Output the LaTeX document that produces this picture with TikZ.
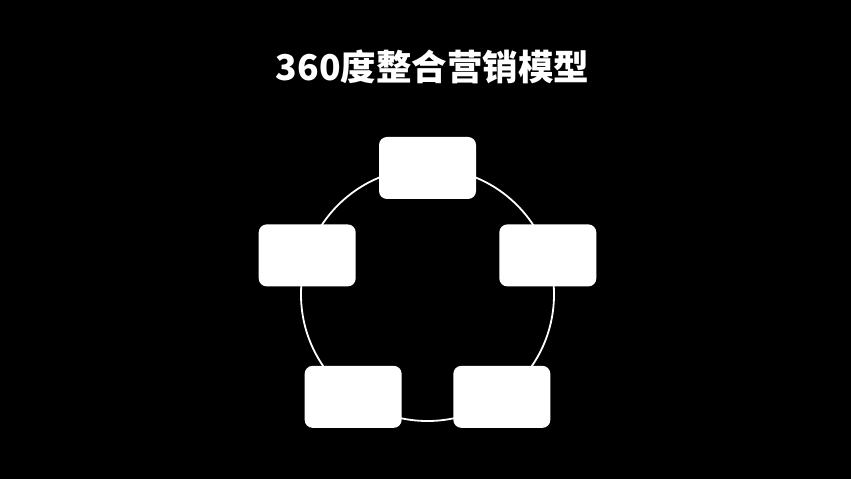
\documentclass[tikz,border=0pt]{standalone}
\usepackage{fontspec}
\newfontfamily\cjk{Noto Sans CJK SC}
\begin{document}
\begin{tikzpicture}[x=1pt, y=1pt,
    stepbox/.style={fill=white, rounded corners=8pt, minimum width=97pt, minimum height=62pt, inner sep=0pt}]
    % Background
    \fill[black] (0,0) rectangle (851,479);
    \useasboundingbox (0,0) rectangle (851,479);

    % Title
    \node[white, font=\cjk\bfseries\fontsize{35.5}{42}\selectfont] (title) at (432.5,412.5) {360度整合营销模型};

    % Draw ring
    \coordinate (center) at (427.5,184.5);
    \draw[white, line width=1.8pt] (center) circle (126.5pt);

    % Boxes on the ring
    \foreach \a [count=\i] in {90,18,-54,-126,162}
        \node[stepbox] (box\i) at ([shift={(\a:126.5pt)}]center) {};
\end{tikzpicture}
\end{document}
